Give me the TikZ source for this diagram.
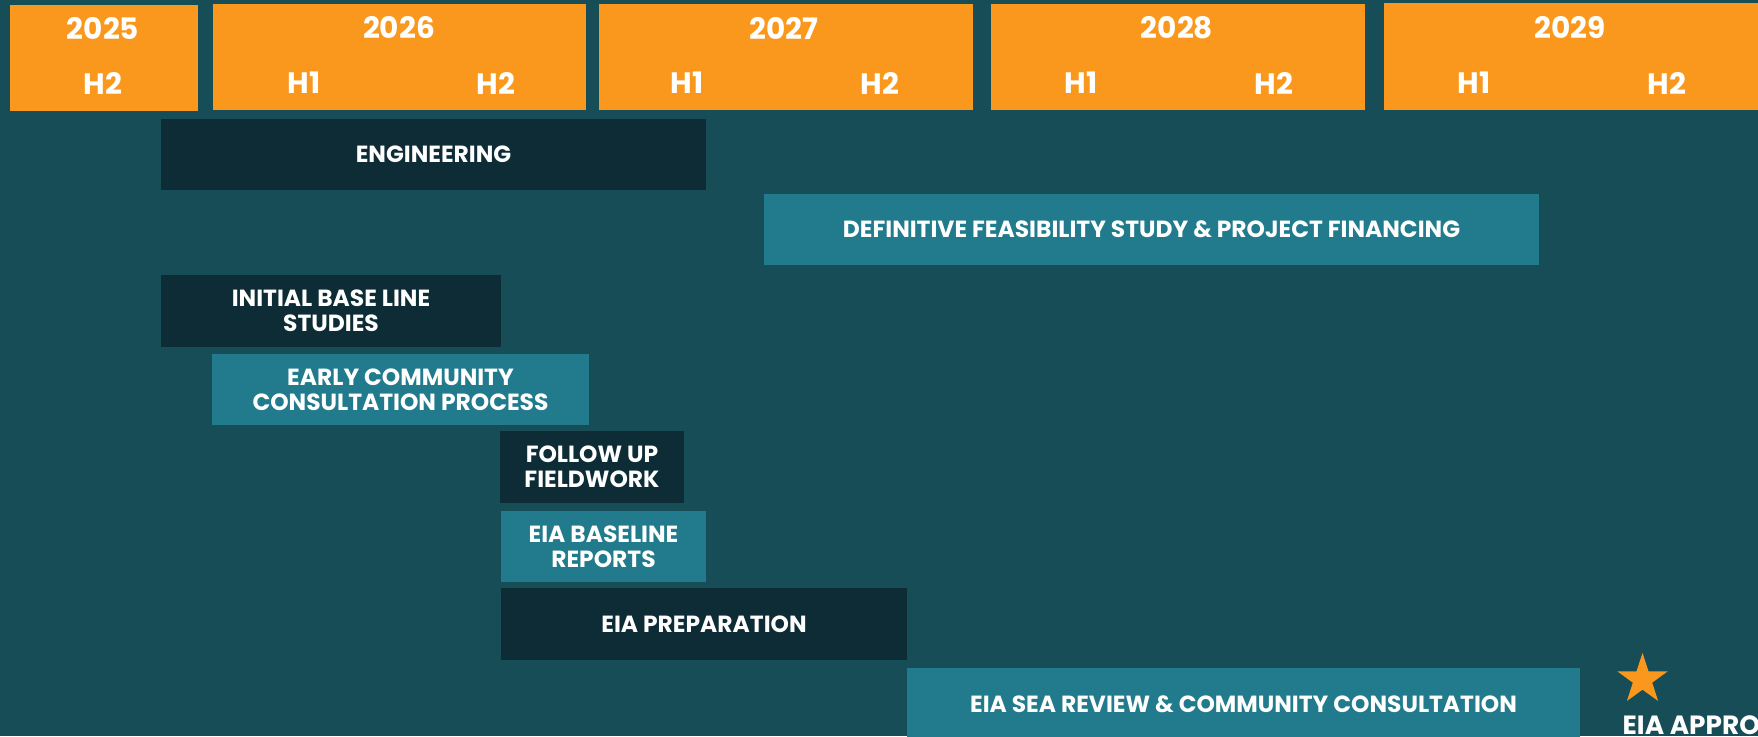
\documentclass[tikz,border=0pt]{standalone}
\usepackage{fontspec}
\setmainfont{Poppins}
\usepackage{tikz}
\usetikzlibrary{shapes.geometric, positioning}
\definecolor{bgteal}{RGB}{22,77,87}
\definecolor{yearorange}{RGB}{249,152,29}
\definecolor{bardark}{RGB}{13,44,53}
\definecolor{barlight}{RGB}{33,123,140}

\begin{document}
\begin{tikzpicture}[
    x=0.01cm, y=-0.01cm,
    yearbox/.style={fill=yearorange, inner sep=0, anchor=north west, minimum height=1.06cm},
    yearlbl/.style={text=white, font=\bfseries\fontsize{8.4}{10}\selectfont},
    bar/.style={inner sep=0, minimum height=0.71cm, text=white, align=center, font=\bfseries\fontsize{6.65}{7.1}\selectfont},
    darkbar/.style={bar, fill=bardark},
    lightbar/.style={bar, fill=barlight}
]
    \path[use as bounding box, clip] (0,0) rectangle (1758,736);
    \fill[bgteal] (0,0) rectangle (1758,736);

    % year header
    \node[yearbox, minimum width=1.88cm] (y2025) at (9,4) {};
    \node[yearbox, minimum width=3.73cm] (y2026) at (212,3) {};
    \node[yearbox, minimum width=3.74cm] (y2027) at (598,3) {};
    \node[yearbox, minimum width=3.74cm] (y2028) at (990,3) {};
    \node[yearbox, minimum width=3.74cm, minimum height=1.07cm] (y2029) at (1383,2) {};

    \node[yearlbl] (t2025) at (103,28) {2025};
    \node[yearlbl] (t2026) at (399,28) {2026};
    \node[yearlbl] (t2027) at (784,28) {2027};
    \node[yearlbl] (t2028) at (1177,28) {2028};
    \node[yearlbl] (t2029) at (1570,28) {2029};

    \node[yearlbl] (h2025b) at (103,83) {H2};
    \node[yearlbl] (h2026a) at (304,83) {H1};
    \node[yearlbl] (h2026b) at (496,83) {H2};
    \node[yearlbl] (h2027a) at (687,83) {H1};
    \node[yearlbl] (h2027b) at (880,83) {H2};
    \node[yearlbl] (h2028a) at (1081,83) {H1};
    \node[yearlbl] (h2028b) at (1274,83) {H2};
    \node[yearlbl] (h2029a) at (1474,83) {H1};
    \node[yearlbl] (h2029b) at (1667,83) {H2};

    % activity bars
    \node[darkbar, minimum width=5.45cm] (eng) at (433.5,154.5) {ENGINEERING};
    \node[lightbar, minimum width=7.75cm] (dfs) at (1151.5,229.5) {DEFINITIVE FEASIBILITY STUDY \& PROJECT FINANCING};
    \node[darkbar, minimum width=3.40cm] (baseline) at (331,311) {INITIAL BASE LINE\\STUDIES};
    \node[lightbar, minimum width=3.77cm] (community) at (400.5,389.5) {EARLY COMMUNITY\\CONSULTATION PROCESS};
    \node[darkbar, minimum width=1.84cm] (fieldwork) at (592,467) {FOLLOW UP\\FIELDWORK};
    \node[lightbar, minimum width=2.05cm] (eiareports) at (603.5,546.5) {EIA BASELINE\\REPORTS};
    \node[darkbar, minimum width=4.06cm] (eiaprep) at (704,624) {EIA PREPARATION};
    \node[lightbar, minimum width=6.73cm, minimum height=0.72cm] (seareview) at (1243.5,704) {EIA SEA REVIEW \& COMMUNITY CONSULTATION};

    % milestone
    \node[star, star points=5, star point ratio=2.6, fill=yearorange, inner sep=0, minimum size=0.53cm] (approvalstar) at (1642.5,679.5) {};
    \node[anchor=base west, text=white, font=\bfseries\fontsize{7.5}{9}\selectfont, inner sep=0] (approval) at (1622,734) {EIA APPRO};
\end{tikzpicture}
\end{document}
